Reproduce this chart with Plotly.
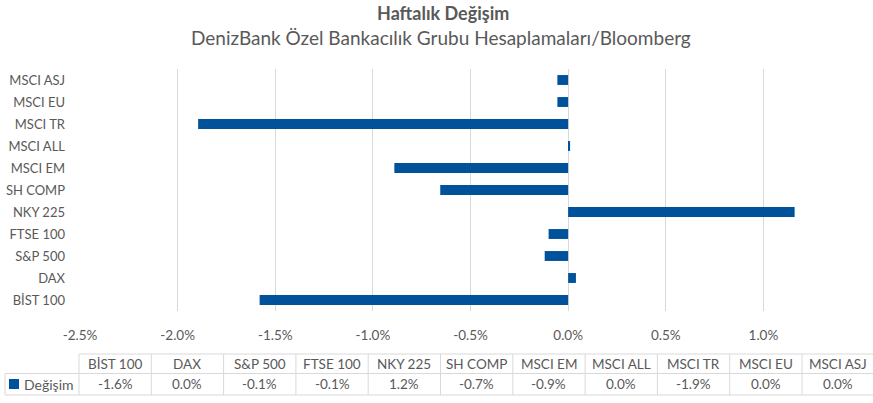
import plotly.graph_objects as go

categories = ["BİST 100", "DAX", "S&P 500", "FTSE 100", "NKY 225", "SH COMP",
              "MSCI EM", "MSCI ALL", "MSCI TR", "MSCI EU", "MSCI ASJ"]
values = [-1.58, 0.04, -0.12, -0.10, 1.16, -0.655, -0.89, 0.01, -1.895, -0.055, -0.055]
table_labels = ["-1.6%", "0.0%", "-0.1%", "-0.1%", "1.2%", "-0.7%",
                "-0.9%", "0.0%", "-1.9%", "0.0%", "0.0%"]
series_name = "Değişim"
x_ticks = [-2.5, -2.0, -1.5, -1.0, -0.5, 0.0, 0.5, 1.0, 1.5]
x_tick_text = ["-2.5%", "-2.0%", "-1.5%", "-1.0%", "-0.5%", "0.0%", "0.5%", "1.0%", "1.5%"]
title = "Haftalık Değişim"
subtitle = "DenizBank Özel Bankacılık Grubu Hesaplamaları/Bloomberg"

W, H = 873, 403
# plot area in screen pixels: x 80..861, y 69..311
ML, MT = 80, 69
MR = W - 861
MB = H - 311
PW, PH = W - ML - MR, H - MT - MB
FONT = "Lato"
TXT = "#595959"
GRID = "#d9d9d9"
BLUE = "#00529b"


def px(x):
    return (x - ML) / PW


def py(y):
    return (H - MB - y) / PH


fig = go.Figure(go.Bar(
    x=values, y=categories, orientation="h",
    marker=dict(color=BLUE, line=dict(width=0)),
    name=series_name, showlegend=False, hoverinfo="x+y",
))

fig.update_layout(
    width=W, height=H,
    margin=dict(l=ML, r=MR, t=MT, b=MB),
    paper_bgcolor="white", plot_bgcolor="white",
    font=dict(family=FONT, size=13, color=TXT),
    bargap=0.55,
    xaxis=dict(range=[-2.5, 1.5], tickvals=x_ticks, ticktext=x_tick_text,
               showgrid=True, gridcolor=GRID, gridwidth=1,
               zeroline=True, zerolinecolor=GRID, zerolinewidth=1,
               showline=False, ticks="", ticklabelstandoff=14, automargin=False,
               tickfont=dict(size=13.5, color=TXT)),
    yaxis=dict(categoryorder="array", categoryarray=categories,
               showgrid=False, showline=False, ticks="", automargin=False,
               ticklabelstandoff=14, tickfont=dict(size=13, color=TXT)),
)

annotations = [
    dict(text="<b>" + title + "</b>", x=px(443), y=py(13), xref="paper", yref="paper",
         showarrow=False, font=dict(size=18, color=TXT, family=FONT), xanchor="center", yanchor="middle"),
    dict(text=subtitle, x=px(441), y=py(37), xref="paper", yref="paper",
         showarrow=False, font=dict(size=19, color=TXT, family=FONT), xanchor="center", yanchor="middle"),
]

shapes = []
t_left = 79
cw = 72.3
legend_left = 5
row_top, row_mid, row_bot = 354, 373.5, 395
n = len(categories)
t_right = t_left + n * cw
line = dict(color=GRID, width=1)
shapes.append(dict(type="line", xref="paper", yref="paper", x0=px(t_left), x1=px(t_right),
                   y0=py(row_top), y1=py(row_top), line=line))
shapes.append(dict(type="line", xref="paper", yref="paper", x0=px(legend_left), x1=px(t_right),
                   y0=py(row_mid), y1=py(row_mid), line=line))
shapes.append(dict(type="line", xref="paper", yref="paper", x0=px(legend_left), x1=px(t_right),
                   y0=py(row_bot), y1=py(row_bot), line=line))
shapes.append(dict(type="line", xref="paper", yref="paper", x0=px(legend_left), x1=px(legend_left),
                   y0=py(row_mid), y1=py(row_bot), line=line))
for i in range(n + 1):
    xb = t_left + i * cw
    shapes.append(dict(type="line", xref="paper", yref="paper", x0=px(xb), x1=px(xb),
                       y0=py(row_top), y1=py(row_bot), line=line))
for i, (c, v) in enumerate(zip(categories, table_labels)):
    xc = t_left + (i + 0.5) * cw
    annotations.append(dict(text=c, x=px(xc), y=py((row_top + row_mid) / 2), xref="paper", yref="paper",
                            showarrow=False, xanchor="center", yanchor="middle",
                            font=dict(size=13.5, color=TXT)))
    annotations.append(dict(text=v, x=px(xc), y=py((row_mid + row_bot) / 2), xref="paper", yref="paper",
                            showarrow=False, xanchor="center", yanchor="middle",
                            font=dict(size=13.5, color=TXT)))
shapes.append(dict(type="rect", xref="paper", yref="paper", x0=px(9), x1=px(19),
                   y0=py(379), y1=py(389), fillcolor=BLUE, line=dict(width=0)))
annotations.append(dict(text=series_name, x=px(22), y=py((row_mid + row_bot) / 2), xref="paper", yref="paper",
                        showarrow=False, xanchor="left", yanchor="middle",
                        font=dict(size=14, color=TXT)))

fig.update_layout(annotations=annotations, shapes=shapes)
fig.write_html("out.html", config={"displayModeBar": False},
               post_script="document.body.style.margin='0';document.body.style.overflow='hidden';")
